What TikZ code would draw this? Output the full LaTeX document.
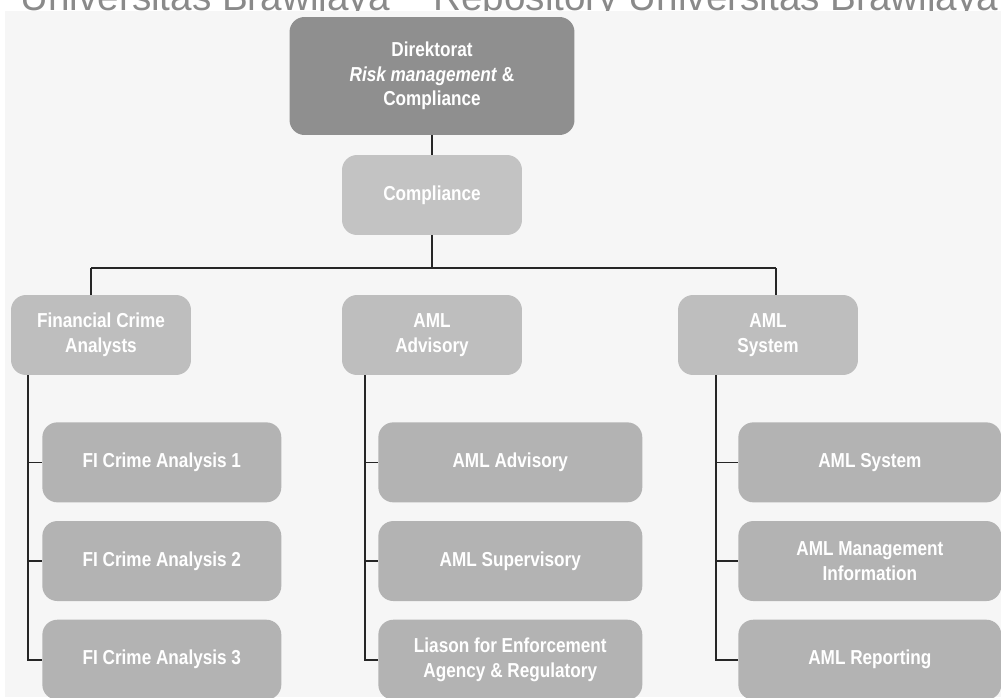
\documentclass[tikz,border=0pt]{standalone}
\usepackage{fontspec}
\setmainfont{Liberation Sans}[FakeStretch=0.85]
\newfontfamily\wmfont{Liberation Sans}
\usepackage{xcolor}
\usetikzlibrary{positioning}
\definecolor{pagebg}{HTML}{F6F6F6}
\definecolor{dirgray}{HTML}{8F8F8F}
\definecolor{compgray}{HTML}{C3C3C3}
\definecolor{unitgray}{HTML}{BEBEBE}
\definecolor{subgray}{HTML}{B3B3B3}
\definecolor{wmgray}{HTML}{8A8A8A}
\tikzset{
  orgbox/.style = {align=center, inner sep=2pt, text=white, rounded corners=0.3cm,
    font=\bfseries\fontsize{11.5}{14}\selectfont},
  dirbox/.style = {orgbox, fill=dirgray, minimum width=5.7cm, minimum height=2.36cm},% direktorat
  compbox/.style = {orgbox, fill=compgray, minimum width=3.6cm, minimum height=1.6cm},% compliance
  unitbox/.style = {orgbox, fill=unitgray, minimum width=3.6cm, minimum height=1.6cm},% unit
  subbox/.style = {orgbox, fill=subgray, minimum height=1.6cm},% sub unit
  wmtext/.style = {anchor=base west, inner sep=0pt, text=wmgray,
    font=\wmfont\fontsize{22}{22}\selectfont},% watermark
  orgline/.style = {draw=black!85, line width=0.9pt}
}
\begin{document}
\begin{tikzpicture}[x=0.02cm, y=-0.02cm]
\useasboundingbox (0,0) rectangle (1001,697);
\clip (0,0) rectangle (1001,697);
% watermark, cut off at the top
\node[wmtext] (wm1) at (20,10) {Universitas Brawijaya};
\node[wmtext] (wm2) at (433,10) {Repository Universitas Brawijaya};
\fill[pagebg] (5,11) rectangle (1001,697);

\node[dirbox] (dir) at (432,76) {Direktorat\\\textit{Risk management} \&\\Compliance};
\node[compbox] (comp) at (432,195) {Compliance};
\node[unitbox] (fca) at (101,335) {Financial Crime\\Analysts};
\node[unitbox] (amla) at (432,335) {AML\\Advisory};
\node[unitbox] (amls) at (768,335) {AML\\System};

% sub units
\node[subbox, minimum width=4.78cm, anchor=north west] (fi1) at (42,422) {FI Crime Analysis 1};
\node[subbox, minimum width=4.78cm, below=0.36cm of fi1] (fi2) {FI Crime Analysis 2};
\node[subbox, minimum width=4.78cm, below=0.36cm of fi2] (fi3) {FI Crime Analysis 3};
\node[subbox, minimum width=5.28cm, anchor=north west] (adv1) at (378,422) {AML Advisory};
\node[subbox, minimum width=5.28cm, below=0.36cm of adv1] (adv2) {AML Supervisory};
\node[subbox, minimum width=5.28cm, below=0.36cm of adv2] (adv3) {Liason for Enforcement\\Agency \& Regulatory};
\node[subbox, minimum width=5.26cm, anchor=north west] (sys1) at (738,422) {AML System};
\node[subbox, minimum width=5.26cm, below=0.36cm of sys1] (sys2) {AML Management\\Information};
\node[subbox, minimum width=5.26cm, below=0.36cm of sys2] (sys3) {AML Reporting};

% connectors
\coordinate (busL) at (91,268);
\coordinate (busR) at (776,268);
\coordinate (xL) at (28,0);
\coordinate (xM) at (365,0);
\coordinate (xR) at (716,0);
\draw[orgline] (dir) -- (comp);
\draw[orgline] (comp.south) -- (comp.south |- busL);
\draw[orgline] (busL) -- (busR);
\draw[orgline] (busL) -- (busL |- fca.north);
\draw[orgline] (busR) -- (busR |- amls.north);
\foreach \n in {fi1,fi2,fi3}
  \draw[orgline] (fca.south -| xL) |- (\n.west);
\foreach \n in {adv1,adv2,adv3}
  \draw[orgline] (amla.south -| xM) |- (\n.west);
\foreach \n in {sys1,sys2,sys3}
  \draw[orgline] (amls.south -| xR) |- (\n.west);
\end{tikzpicture}
\end{document}
